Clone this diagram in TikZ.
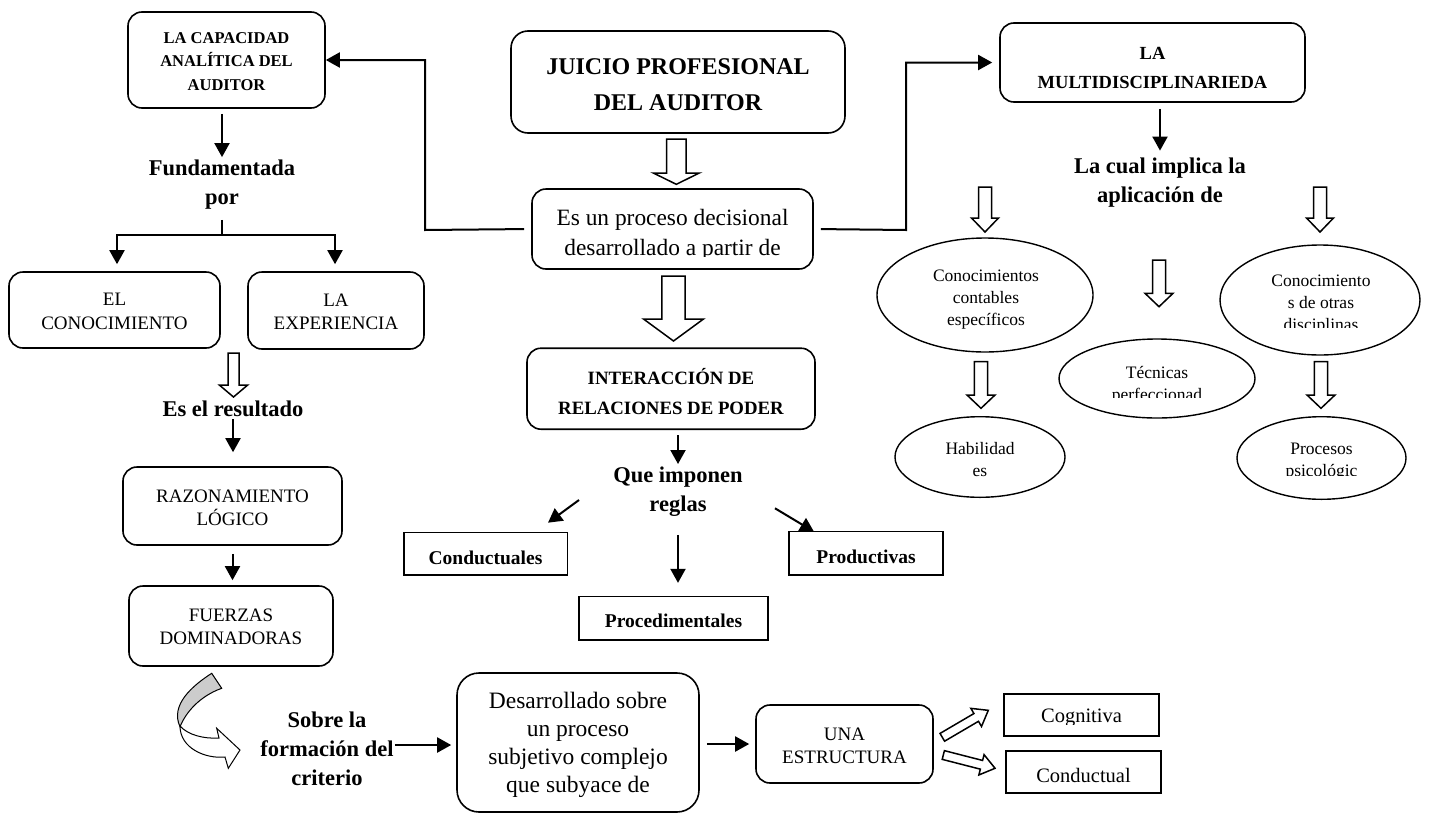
\documentclass[tikz,border=0pt]{standalone}
\usepackage{fontspec}
\setmainfont{Liberation Serif}
\usetikzlibrary{arrows.meta,shapes.geometric,calc}
\begin{document}
\begin{tikzpicture}[x=1pt,y=1pt,
  rbox/.style={draw,line width=1.6pt,rounded corners=14pt,inner sep=0pt},
  sbox/.style={draw,line width=1.6pt,inner sep=0pt},
  oval/.style={draw,ellipse,line width=1.4pt,inner sep=0pt},
  txt/.style={align=center,inner sep=0pt},
  capt/.style={txt,font=\fontsize{16.5}{23.5}\selectfont\bfseries},
  juict/.style={txt,font=\fontsize{24}{36}\selectfont\bfseries},
  proct/.style={txt,font=\fontsize{23.4}{30}\selectfont},
  multt/.style={txt,font=\fontsize{18.5}{29}\selectfont\bfseries},
  capsn/.style={txt,font=\fontsize{19}{23.3}\selectfont},
  intert/.style={txt,font=\fontsize{18.8}{29.5}\selectfont\bfseries},
  rulet/.style={txt,font=\fontsize{19.5}{24}\selectfont\bfseries},
  lbl/.style={txt,font=\fontsize{22.5}{29}\selectfont\bfseries},
  desat/.style={txt,font=\fontsize{23.5}{28}\selectfont},
  ovalt/.style={txt,font=\fontsize{17.5}{22}\selectfont},
  smallt/.style={txt,font=\fontsize{20.5}{24}\selectfont},
  tline/.style={line width=2pt},
  tarrow/.style={line width=2pt,-{Triangle[length=14pt,width=15pt]}},
  hollow/.style={draw,fill=white,line width=1.5pt,line join=miter},
  pics/hollowarrow/.style n args={4}{code={
    \draw[hollow] (0,#2) -- ({#1-#4},#2) -- ({#1-#4},#3) -- (#1,0)
      -- ({#1-#4},-#3) -- ({#1-#4},-#2) -- (0,-#2) -- cycle;}}
]
\fill[white] (0,0) rectangle (1429,-814);
\useasboundingbox (0,0) rectangle (1429,-814);

% ---------- centre column ----------
\node[rbox,rounded corners=17pt,minimum width=334pt,minimum height=102pt] (juicio) at (678,-82) {};
\node[juict] (juicio-t) at (678,-85) {JUICIO PROFESIONAL\\DEL AUDITOR};

\node[rbox,minimum width=281pt,minimum height=80pt] (proc) at (672.5,-229) {};
\begin{scope}
  \clip (532,-189) rectangle (813,-256);
  \node[proct] (proc-t) at (672.5,-235) {Es un proceso decisional\\desarrollado a partir de};
\end{scope}

\node[rbox,minimum width=288pt,minimum height=81pt] (inter) at (671,-388.7) {};
\node[intert] (inter-t) at (671,-391.5) {INTERACCIÓN DE\\RELACIONES DE PODER};

\node[lbl] (que) at (678,-492) {Que imponen\\reglas};

\node[sbox,minimum width=163.5pt,minimum height=42.3pt] (condu) at (485.75,-553.8) {};
\node[rulet] (condu-t) at (485.5,-558) {Conductuales};
\node[sbox,minimum width=189pt,minimum height=43.3pt] (proced) at (673.5,-618.3) {};
\node[rulet] (proced-t) at (673.5,-621) {Procedimentales};
\node[sbox,minimum width=154pt,minimum height=43.3pt] (produc) at (866,-553.3) {};
\node[rulet] (produc-t) at (866,-556.5) {Productivas};

% ---------- left column ----------
\node[rbox,minimum width=197pt,minimum height=96pt] (cap) at (226.5,-60) {};
\node[capt] (cap-t) at (226.5,-61.5) {LA CAPACIDAD\\ANALÍTICA DEL\\AUDITOR};

\node[lbl] (fund) at (222,-185) {Fundamentada\\por};

\node[rbox,minimum width=211pt,minimum height=76pt] (conoc) at (114.5,-310) {};
\node[capsn] (conoc-t) at (114.5,-311.5) {EL\\CONOCIMIENTO};
\node[rbox,minimum width=176pt,minimum height=77pt] (exper) at (336,-310.5) {};
\node[capsn] (exper-t) at (336,-312) {LA\\EXPERIENCIA};

\node[lbl] (result) at (233,-409) {Es el resultado};

\node[rbox,minimum width=219pt,minimum height=78pt] (razon) at (232.5,-506) {};
\node[capsn] (razon-t) at (232.5,-507.5) {RAZONAMIENTO\\LÓGICO};
\node[rbox,minimum width=204pt,minimum height=80pt] (fuerzas) at (231,-626) {};
\node[capsn] (fuerzas-t) at (231,-626.5) {FUERZAS\\DOMINADORAS};

% ---------- bottom row ----------
\node[lbl] (sobre) at (327,-748.5) {Sobre la\\formación del\\criterio};

\node[rbox,rounded corners=22pt,minimum width=242pt,minimum height=139pt] (desarr) at (578,-742.5) {};
\begin{scope}
  \clip (457,-673) rectangle (699,-797);
  \node[desat] (desarr-t) at (578,-745) {Desarrollado sobre\\un proceso\\subjetivo complejo\\que subyace de};
\end{scope}

\node[rbox,minimum width=177pt,minimum height=78pt] (una) at (844.5,-744) {};
\node[capsn] (una-t) at (844.5,-746) {UNA\\ESTRUCTURA};

\node[sbox,minimum width=155pt,minimum height=42pt] (cogn) at (1081.5,-715) {};
\begin{scope}
  \clip (1004,-694) rectangle (1159,-724);
  \node[smallt] (cogn-t) at (1081.5,-718) {Cognitiva};
\end{scope}
\node[sbox,minimum width=155pt,minimum height=42pt] (conduct) at (1083.5,-772) {};
\node[smallt] (conduct-t) at (1083.5,-775) {Conductual};

% ---------- right column ----------
\node[rbox,minimum width=305pt,minimum height=79pt] (multi) at (1152.5,-62.5) {};
\node[multt] (multi-t) at (1152.5,-67.5) {LA\\MULTIDISCIPLINARIEDA};

\node[lbl] (cual) at (1160,-182.5) {La cual implica la\\aplicación de};

\node[oval,minimum width=216pt,minimum height=114pt] (e1) at (985,-295) {};
\node[ovalt] (e1-t) at (986,-300) {Conocimientos\\contables\\específicos};

\node[oval,minimum width=200pt,minimum height=110pt] (e2) at (1320,-300) {};
\begin{scope}
  \clip (1220,-240) rectangle (1421,-327);
  \node[ovalt] (e2-t) at (1321,-304.5) {Conocimiento\\s de otras\\disciplinas};
\end{scope}

\node[oval,minimum width=196pt,minimum height=79pt] (e3) at (1157,-378.5) {};
\begin{scope}
  \clip (1059,-339) rectangle (1256,-397);
  \node[ovalt] (e3-t) at (1157,-385) {Técnicas\\perfeccionad};
\end{scope}

\node[oval,minimum width=170pt,minimum height=80.6pt] (e4) at (980,-457) {};
\node[ovalt] (e4-t) at (980,-460) {Habilidad\\es};

\node[oval,minimum width=169pt,minimum height=82.6pt] (e5) at (1321.5,-458) {};
\begin{scope}
  \clip (1237,-417) rectangle (1406,-475);
  \node[ovalt] (e5-t) at (1321.5,-461.5) {Procesos\\psicológic};
\end{scope}

% ---------- connectors ----------
\coordinate (lbend) at (425,-230);
\draw[tarrow,shorten <=7pt] (proc.west) -- (lbend) |- (cap.east);
\coordinate (rbend) at (906,-230);
\draw[tarrow,shorten <=7pt,shorten >=7pt] (proc.east) -- (rbend) |- (multi.west);

\draw[tarrow,shorten <=5pt,shorten >=3pt] (fund.north |- cap.south) -- (fund.north);
\coordinate (fsplit) at (222,-235);
\draw[tline,shorten <=10pt] (fund.south) -- (fsplit);
\draw[tarrow,shorten >=7pt] (fsplit) -| ([xshift=2.5pt]conoc.north);
\draw[tarrow,shorten >=7pt] (fsplit) -| ([xshift=-1pt]exper.north);

\draw[tarrow,shorten <=2pt,shorten >=14pt] (result.south) -- (result.south |- razon.north);
\draw[tarrow,shorten <=8pt,shorten >=5pt] (razon.south) -- (razon.south |- fuerzas.north);

\draw[tarrow,shorten <=5pt,shorten >=3pt] (que.north |- inter.south) -- (que.north);
\coordinate (qla) at (579,-500);
\coordinate (qlb) at (548,-522.7);
\draw[tarrow] (qla) -- (qlb);
\draw[tarrow,shorten <=18pt,shorten >=13pt] (que.south) -- (que.south |- proced.north);
\coordinate (qra) at (775,-508.3);
\coordinate (qrb) at (814,-531.7);
\draw[tarrow] (qra) -- (qrb);

\draw[tarrow,shorten <=6pt,shorten >=7pt] (cual.north |- multi.south) -- (cual.north);

\draw[tarrow,shorten <=1pt,shorten >=5pt] (sobre.east |- 0,-745) -- (desarr.west |- 0,-745);
\draw[tarrow,shorten <=7pt,shorten >=6pt] (desarr.east |- una.west) -- (una.west);

% block arrows
\pic[rotate=-90] at (676.3,-139) {hollowarrow={45.3}{9.7}{23}{11.3}};
\pic[rotate=-90] at (673.5,-276) {hollowarrow={65}{11.7}{30}{22}};
\pic[rotate=-90] at (233.5,-353) {hollowarrow={44}{5.5}{14.2}{12}};
\pic[rotate=-90] at (985,-187) {hollowarrow={45}{6.5}{13.5}{14}};
\pic[rotate=-90] at (1320,-187) {hollowarrow={45}{6.5}{13.5}{14}};
\pic[rotate=-90] at (1159,-260) {hollowarrow={46.7}{6.5}{14}{13.4}};
\pic[rotate=-90] at (981,-361.7) {hollowarrow={46.6}{6.7}{14}{13.3}};
\pic[rotate=-90] at (1321,-361.7) {hollowarrow={46.6}{6.7}{14}{13.3}};
\pic[rotate=30.4] at (942.3,-737.3) {hollowarrow={53.3}{4.5}{10.5}{14}};
\pic[rotate=-14.4] at (943.3,-755) {hollowarrow={53.4}{4.5}{10.5}{14}};

% curved arrow below FUERZAS DOMINADORAS
\filldraw[fill=gray!40,line width=1pt,line join=miter]
  (211.7,-673.3) .. controls (192,-686) and (170,-705) .. (180,-726.7)
  .. controls (186,-712) and (200,-696) .. (221.7,-688.3) -- cycle;
\filldraw[fill=white,line width=1pt,line join=miter]
  (180,-726) .. controls (188,-735) and (204,-739) .. (219,-738)
  -- (216.7,-728.3) -- (240,-750) -- (228.3,-768.3) -- (225,-757)
  .. controls (205,-759) and (180,-748) .. (180,-726) -- cycle;
\end{tikzpicture}
\end{document}
